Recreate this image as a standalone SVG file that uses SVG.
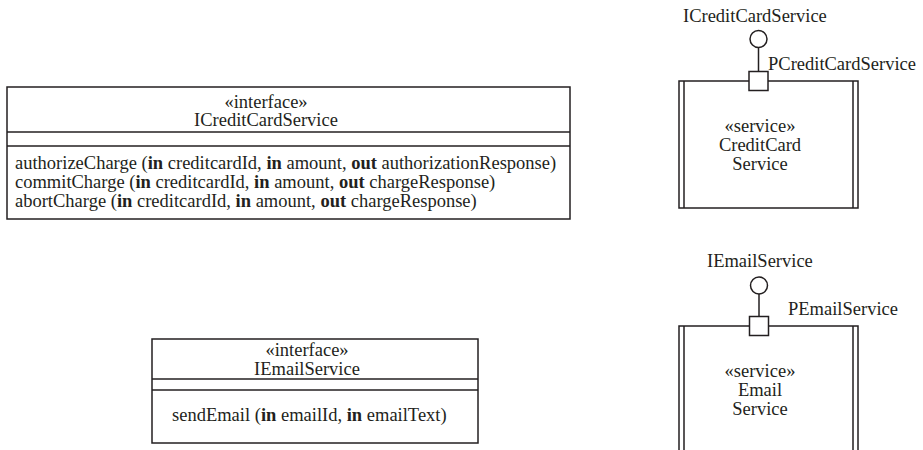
<svg xmlns="http://www.w3.org/2000/svg" width="923" height="450" viewBox="0 0 923 450">
<style>
.ln{fill:none;stroke:#231f20;stroke-width:1.5}
.bx{fill:#fff;stroke:#231f20;stroke-width:1.5}
text{font-family:"Liberation Serif","Times New Roman",serif;font-size:18.5px;fill:#231f20}
.c{text-anchor:middle}
.b{font-weight:bold}
</style>
<rect width="923" height="450" fill="#fff"/>
<g id="ICreditCardService-interface">
<rect class="bx" x="7" y="87" width="563" height="132"/>
<line class="ln" x1="7" y1="132" x2="570" y2="132"/>
<line class="ln" x1="7" y1="146" x2="570" y2="146"/>
<text class="c" x="266" y="108">«interface»</text>
<text class="c" x="266" y="126">ICreditCardService</text>
<text x="15" y="169">authorizeCharge (<tspan class="b">in</tspan> creditcardId, <tspan class="b">in</tspan> amount, <tspan class="b">out</tspan> authorizationResponse)</text>
<text x="15" y="188">commitCharge (<tspan class="b">in</tspan> creditcardId, <tspan class="b">in</tspan> amount, <tspan class="b">out</tspan> chargeResponse)</text>
<text x="15" y="207">abortCharge (<tspan class="b">in</tspan> creditcardId, <tspan class="b">in</tspan> amount, <tspan class="b">out</tspan> chargeResponse)</text>
</g>
<g id="IEmailService-interface">
<rect class="bx" x="152" y="339" width="326" height="104"/>
<line class="ln" x1="152" y1="379" x2="478" y2="379"/>
<line class="ln" x1="152" y1="390" x2="478" y2="390"/>
<text class="c" x="307" y="356">«interface»</text>
<text class="c" x="307" y="375">IEmailService</text>
<text x="172" y="421">sendEmail (<tspan class="b">in</tspan> emailId, <tspan class="b">in</tspan> emailText)</text>
</g>
<g id="CreditCardService">
<rect class="bx" x="679" y="81" width="179" height="127"/>
<line class="ln" x1="684" y1="81" x2="684" y2="208"/>
<line class="ln" x1="853" y1="81" x2="853" y2="208"/>
<text class="c" x="760" y="132">«service»</text>
<text class="c" x="760" y="151">CreditCard</text>
<text class="c" x="760" y="170">Service</text>
</g>
<g id="EmailService">
<path class="ln" d="M679,452 V326 H858 V452 M684,326 V452 M853,326 V452"/>
<text class="c" x="760" y="377">«service»</text>
<text class="c" x="760" y="396">Email</text>
<text class="c" x="760" y="415">Service</text>
</g>
<g id="connectors">
<line class="ln" x1="758.5" y1="47.5" x2="758.5" y2="71.5"/>
<line class="ln" x1="759" y1="294" x2="759" y2="316.5"/>
</g>
<g id="PCreditCardService-port">
<rect class="bx" x="749" y="71.5" width="19" height="19"/>
<text x="768" y="70">PCreditCardService</text>
</g>
<g id="ICreditCardService-provided">
<circle class="bx" cx="758.5" cy="39" r="8.5"/>
<text x="683" y="22">ICreditCardService</text>
</g>
<g id="PEmailService-port">
<rect class="bx" x="749.5" y="316.5" width="19" height="19"/>
<text x="788" y="315">PEmailService</text>
</g>
<g id="IEmailService-provided">
<circle class="bx" cx="759" cy="285.5" r="8.5"/>
<text x="707" y="267">IEmailService</text>
</g>
</svg>
